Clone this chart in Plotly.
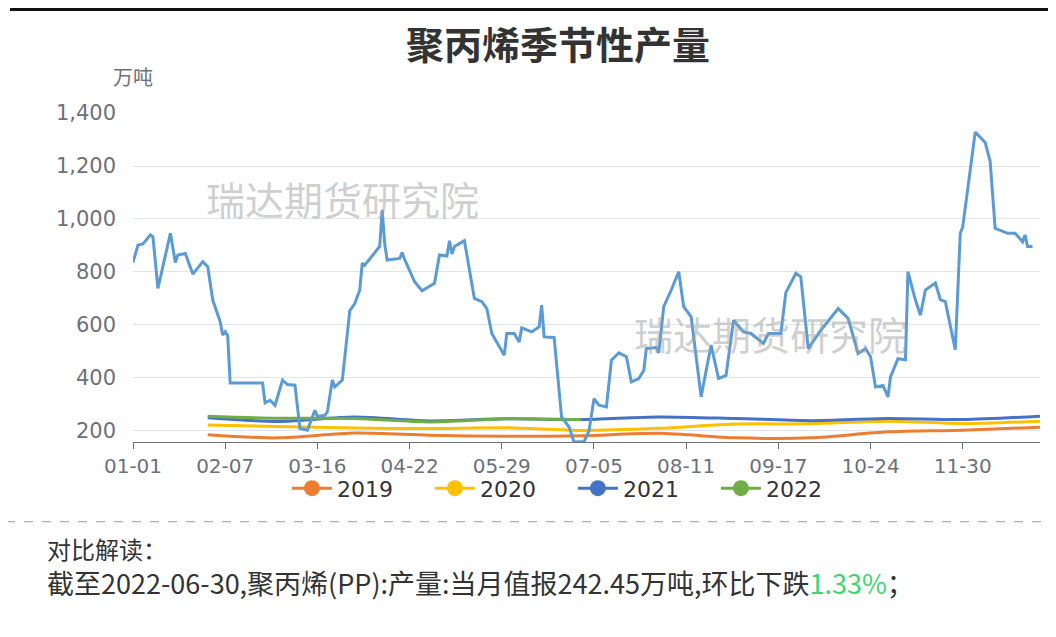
import plotly.graph_objects as go
import pandas as pd

# ---- categories (non-leap calendar days) ----
day_labels = pd.date_range("2021-01-01", "2021-12-31", freq="D").strftime("%m-%d").tolist()
tick_labels = ["01-01", "02-07", "03-16", "04-22", "05-29", "07-05", "08-11", "09-17", "10-24", "11-30"]

# ---- monthly seasonal series (万吨) ----
month_ends = ["01-31", "02-28", "03-31", "04-30", "05-31", "06-30",
              "07-31", "08-31", "09-30", "10-31", "11-30", "12-31"]
v2019 = [186, 174, 192, 184, 180, 182, 191, 174, 174, 197, 203, 214]
v2020 = [223, 217, 211, 209, 212, 202, 210, 226, 227, 237, 228, 237]
v2021 = [250, 236, 253, 238, 246, 243, 253, 247, 239, 247, 243, 256]
v2022 = [256, 248, 247, 234, 245.7, 242.45]

# ---- unnamed daily series (day of year, value) ----
blue_day = [0, 2, 4, 7, 8, 10, 15, 17, 18, 21, 24, 28, 30, 32, 35, 36, 37, 38, 39,
            52, 53, 55, 57, 60, 62, 65, 67, 70, 73, 74, 77, 78, 80, 81, 84, 87,
            89, 91, 92, 93, 99, 100, 101, 102, 107, 108, 109, 113, 116, 121, 123,
            126, 127, 128, 129, 133, 137, 140, 142, 144, 149, 150, 153, 155, 156,
            160, 163, 164, 165, 169, 172, 175, 177, 181, 183, 185, 187, 190, 192,
            195, 198, 200, 203, 205, 206, 210, 211, 213, 216, 219, 221, 224, 228,
            232, 235, 238, 241, 245, 248, 253, 255, 260, 262, 266, 268, 271, 276,
            283, 287, 291, 294, 296, 298, 301, 303, 304, 307, 310, 311, 314, 316,
            318, 322, 324, 326, 330, 332, 333, 338, 342, 344, 346, 351, 354, 357,
            358, 359, 361]
blue_val = [836, 902, 906, 940, 933, 738, 946, 836, 864, 870, 792, 839, 820, 694, 612, 562, 575, 560, 381,
            381, 306, 316, 297, 392, 375, 373, 209, 203, 278, 255, 259, 272, 392, 366, 392, 654,
            681, 732, 833, 826, 896, 1034, 908, 845, 851, 873, 848, 763, 729, 757, 864,
            860, 918, 868, 896, 918, 700, 688, 662, 568, 486, 568, 568, 536, 589,
            574, 593, 675, 555, 553, 253, 215, 158, 160, 200, 322, 297, 291, 467,
            495, 480, 385, 398, 429, 511, 515, 495, 669, 732, 801, 669, 631, 329,
            524, 398, 410, 618, 574, 568, 530, 568, 568, 722, 795, 782, 511, 580,
            662, 625, 492, 511, 480, 366, 372, 329, 404, 473, 469, 801, 694, 637,
            732, 759, 696, 688, 507, 946, 971, 1328, 1289, 1217, 965, 946, 946, 914,
            940, 896, 896]

series = [("2019", v2019, "#ED7D31"), ("2020", v2020, "#FFC000"),
          ("2021", v2021, "#4472C4"), ("2022", v2022, "#70AD47")]

CJK = "Noto Sans CJK SC"
NUM = "DejaVu Sans, Noto Sans CJK SC"

fig = go.Figure()

for name, vals, col in series:
    fig.add_trace(go.Scatter(
        x=month_ends[:len(vals)], y=vals, mode="lines", name=name,
        legendgroup=name, showlegend=False,
        line=dict(color=col, width=3, shape="spline", smoothing=0.8),
        hoverinfo="skip"))
    # legend entry only (no data drawn)
    fig.add_trace(go.Scatter(
        x=[None], y=[None], mode="lines+markers", name=name, legendgroup=name,
        line=dict(color=col, width=3),
        marker=dict(color=col, size=16, symbol="circle")))

fig.add_trace(go.Scatter(
    x=[day_labels[d] for d in blue_day], y=blue_val, mode="lines",
    showlegend=False, line=dict(color="#5B9BD5", width=3), hoverinfo="skip"))

# page body adds an 8px offset; margins compensate so the plot area lands at 133..1040 x 113..442
fig.update_layout(
    width=1056, height=637,
    margin=dict(l=125, r=24, t=105, b=203, autoexpand=False),
    paper_bgcolor="white", plot_bgcolor="white",
    font=dict(family=NUM, color="#6E7079"),
    showlegend=True,
    legend=dict(orientation="h", x=0.485, xanchor="center", y=-0.141, yanchor="middle",
                font=dict(size=22, color="#333333", family=NUM),
                itemwidth=40, entrywidth=88, bgcolor="rgba(0,0,0,0)", traceorder="normal"),
)

fig.update_xaxes(
    type="category", categoryorder="array", categoryarray=day_labels,
    range=[0, len(day_labels) - 1], automargin=False,
    tickmode="array", tickvals=tick_labels, ticktext=tick_labels,
    showgrid=False, zeroline=False,
    showline=True, linecolor="#6E7079", linewidth=1,
    ticks="outside", ticklen=6, tickcolor="#6E7079",
    tickfont=dict(size=20, color="#6E7079", family=NUM))

fig.update_yaxes(
    range=[158.4, 1400], tick0=200, dtick=200, tickformat=",d", automargin=False,
    showgrid=True, gridcolor="#E0E6F1", gridwidth=1,
    zeroline=False, showline=False, ticks="",
    ticklabelstandoff=16,
    tickfont=dict(size=21, color="#6E7079", family=NUM))

anns = [
    dict(text="聚丙烯季节性产量", x=0.4686, y=1.213, xref="paper", yref="paper",
         showarrow=False, font=dict(size=38, color="#333333", family=CJK, weight="bold"),
         xanchor="center", yanchor="middle"),
    dict(text="万吨", x=0.0, y=1.1095, xref="paper", yref="paper", showarrow=False,
         font=dict(size=20, color="#6E7079", family=CJK), xanchor="center", yanchor="middle"),
    dict(text="瑞达期货研究院", x=0.2315, y=0.741, xref="paper", yref="paper", showarrow=False,
         font=dict(size=39, color="rgba(160,160,160,0.5)", family=CJK), xanchor="center", yanchor="middle"),
    dict(text="瑞达期货研究院", x=0.7034, y=0.3307, xref="paper", yref="paper", showarrow=False,
         font=dict(size=39, color="rgba(160,160,160,0.5)", family=CJK), xanchor="center", yanchor="middle"),
    dict(text="对比解读：", x=-0.097, y=-0.3234, xref="paper", yref="paper", showarrow=False,
         font=dict(size=24, color="#333333", family=CJK), xanchor="left", yanchor="middle"),
    dict(text="截至2022-06-30,聚丙烯(PP):产量:当月值报242.45万吨,环比下跌"
              "<span style='color:#3ED46E'>1.33%</span>；",
         x=-0.097, y=-0.4268, xref="paper", yref="paper", showarrow=False,
         font=dict(size=27, color="#333333", family=CJK), xanchor="left", yanchor="middle"),
]
fig.update_layout(annotations=anns)

fig.update_layout(shapes=[
    dict(type="line", xref="paper", yref="paper", x0=-0.1356, x1=1.03, y0=1.3146, y1=1.3146,
         line=dict(color="#111111", width=3)),
    dict(type="line", xref="paper", yref="paper", x0=-0.14, x1=1.03, y0=-0.2424, y1=-0.2424,
         line=dict(color="#999999", width=1, dash="dash")),
])

fig.write_html("out.html")
